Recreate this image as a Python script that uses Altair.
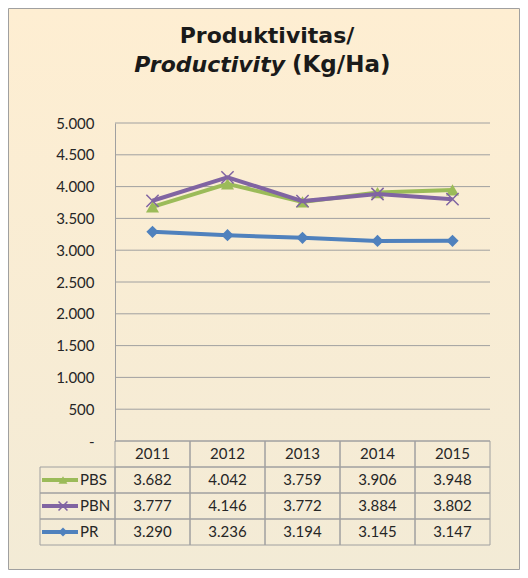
import altair as alt
import pandas as pd

# ---- data ----
years = ["2011", "2012", "2013", "2014", "2015"]
series = ["PBS", "PBN", "PR"]
pbs = [3682, 4042, 3759, 3906, 3948]
pbn = [3777, 4146, 3772, 3884, 3802]
pr = [3290, 3236, 3194, 3145, 3147]
y_ticks = [0, 500, 1000, 1500, 2000, 2500, 3000, 3500, 4000, 4500, 5000]
colors = ["#9BBB59", "#8064A2", "#4F81BD"]
title_line1 = "Produktivitas/"
title_italic = "Productivity"
title_rest = "(Kg/Ha)"

# ---- styling ----
W, H = 375, 318
GRID = "#A0A0A0"
TXT = "#262626"
LABEL_FONT = "Lato"
TABLE_RANGE = [318, 422]
rows = ["hdr"] + series
shapes = {"PBS": ("triangle-up", True, 170, 80),
          "PBN": ("M-1,-1L1,1M-1,1L1,-1", False, 150, 80),
          "PR": ("diamond", True, 150, 80)}

vals = {"PBS": pbs, "PBN": pbn, "PR": pr}
long = pd.DataFrame([{"series": s, "row": s, "year": y, "value": v}
                     for s in series for y, v in zip(years, vals[s])])
header = pd.DataFrame({"row": ["hdr"] * len(years), "year": years})
grid_df = pd.DataFrame({"tick": y_ticks})
keys = pd.DataFrame({"row": series, "series": series})

xs = alt.Scale(type="band", domain=years, paddingInner=0, paddingOuter=0)
ys = alt.Scale(domain=[0, 5000], nice=False, zero=True)
ts = alt.Scale(type="band", domain=rows, range=TABLE_RANGE, paddingInner=0, paddingOuter=0)
col_scale = alt.Scale(domain=series, range=colors)

y_axis = alt.Axis(values=y_ticks, grid=False, ticks=False, domain=True,
                  domainColor=GRID, domainWidth=1, labelFont=LABEL_FONT,
                  labelFontSize=15, labelColor=TXT, labelPadding=21,
                  labelExpr="datum.value == 0 ? '-' : replace(format(datum.value, ','), ',', '.')",
                  title=None, zindex=1)

# ---- background panel ----
grad = alt.Gradient(gradient="linear", x1=0, x2=0, y1=0, y2=1,
                    stops=[alt.GradientStop(color="#FEEED2", offset=0),
                           alt.GradientStop(color="#F3EBD6", offset=1)])
one = pd.DataFrame({"a": [0]})
panel = alt.Chart(one).mark_rect(fill=grad, stroke=GRID, strokeWidth=1).encode(
    x=alt.value(-106.5), x2=alt.value(404.5), y=alt.value(-114.5), y2=alt.value(446.5))

t1 = alt.Chart(pd.DataFrame({"t": [title_line1]})).mark_text(
    font="DejaVu Sans", fontSize=22, fontWeight="bold", color="#1A1A1A",
    align="center", baseline="alphabetic").encode(
    text="t:N", x=alt.value(152), y=alt.value(-80))
t2a = alt.Chart(pd.DataFrame({"t": [title_italic]})).mark_text(
    font="DejaVu Sans", fontSize=22, fontWeight="bold", fontStyle="italic",
    color="#1A1A1A", align="right", baseline="alphabetic").encode(
    text="t:N", x=alt.value(170), y=alt.value(-51))
t2b = alt.Chart(pd.DataFrame({"t": [title_rest]})).mark_text(
    font="DejaVu Sans", fontSize=23, fontWeight="bold",
    color="#1A1A1A", align="left", baseline="alphabetic").encode(
    text="t:N", x=alt.value(177), y=alt.value(-51))

# ---- plot area ----
grid = alt.Chart(grid_df).mark_rule(color=GRID, strokeWidth=1).encode(
    y=alt.Y("tick:Q", scale=ys, axis=y_axis))

plot_layers = [grid]
for s, c in zip(series, colors):
    base = alt.Chart(long).transform_filter(alt.datum.series == s)
    plot_layers.append(base.mark_line(strokeWidth=4, color=c).encode(
        x=alt.X("year:N", scale=xs, axis=None, bandPosition=0.5),
        y=alt.Y("value:Q", scale=ys, axis=y_axis)))
    shp, filled, size, _ = shapes[s]
    plot_layers.append(base.mark_point(shape=shp, filled=filled, size=size, color=c,
                                       opacity=1, strokeWidth=1.5).encode(
        x=alt.X("year:N", scale=xs, axis=None, bandPosition=0.5),
        y=alt.Y("value:Q", scale=ys, axis=y_axis)))
plot = alt.layer(*plot_layers)

# ---- data table ----
TY = lambda: alt.Y("row:N", scale=ts, axis=None)
TYc = lambda: alt.Y("row:N", scale=ts, axis=None, bandPosition=0.5)
allcells = pd.concat([header, long[["row", "year"]]], ignore_index=True)
cell_rects = alt.Chart(allcells).mark_rect(fill="transparent", stroke=GRID, strokeWidth=1).encode(
    x=alt.X("year:N", scale=xs, axis=None), y=TY())
label_rects = alt.Chart(keys).mark_rect(fill="transparent", stroke=GRID, strokeWidth=1).encode(
    x=alt.value(-75), x2=alt.value(0), y=TY())
key_lines = alt.Chart(keys).mark_rule(strokeWidth=4).encode(
    x=alt.value(-73), x2=alt.value(-37), y=TYc(),
    color=alt.Color("series:N", scale=col_scale, legend=None))
key_marks = []
for s, c in zip(series, colors):
    shp, filled, _, ksize = shapes[s]
    key_marks.append(alt.Chart(keys).transform_filter(alt.datum.series == s).mark_point(
        shape=shp, filled=filled, size=ksize, color=c, opacity=1, strokeWidth=1.5).encode(
        x=alt.value(-52), y=TYc()))
key_text = alt.Chart(keys).mark_text(align="left", baseline="middle", font=LABEL_FONT,
                                     fontSize=15, color=TXT).encode(
    x=alt.value(-35), y=TYc(), text="row:N")
year_text = alt.Chart(header).mark_text(align="center", baseline="middle", font=LABEL_FONT,
                                        fontSize=15, color=TXT).encode(
    x=alt.X("year:N", scale=xs, axis=None, bandPosition=0.5), y=TYc(), text="year:N")
val_text = alt.Chart(long).transform_calculate(
    label="replace(format(datum.value, ','), ',', '.')").mark_text(
    align="center", baseline="middle", font=LABEL_FONT, fontSize=15, color=TXT).encode(
    x=alt.X("year:N", scale=xs, axis=None, bandPosition=0.5), y=TYc(), text="label:N")
table = alt.layer(cell_rects, label_rects, key_lines, *key_marks, key_text, year_text, val_text)

chart = alt.layer(panel, t1, t2a, t2b, plot, table).resolve_scale(y="independent").properties(
    width=W, height=H,
    padding={"left": 0, "top": 0, "right": 0, "bottom": 0},
    background="white",
).configure_view(stroke=None)

chart.save("out.html", embed_options={"renderer": "svg", "actions": False})
